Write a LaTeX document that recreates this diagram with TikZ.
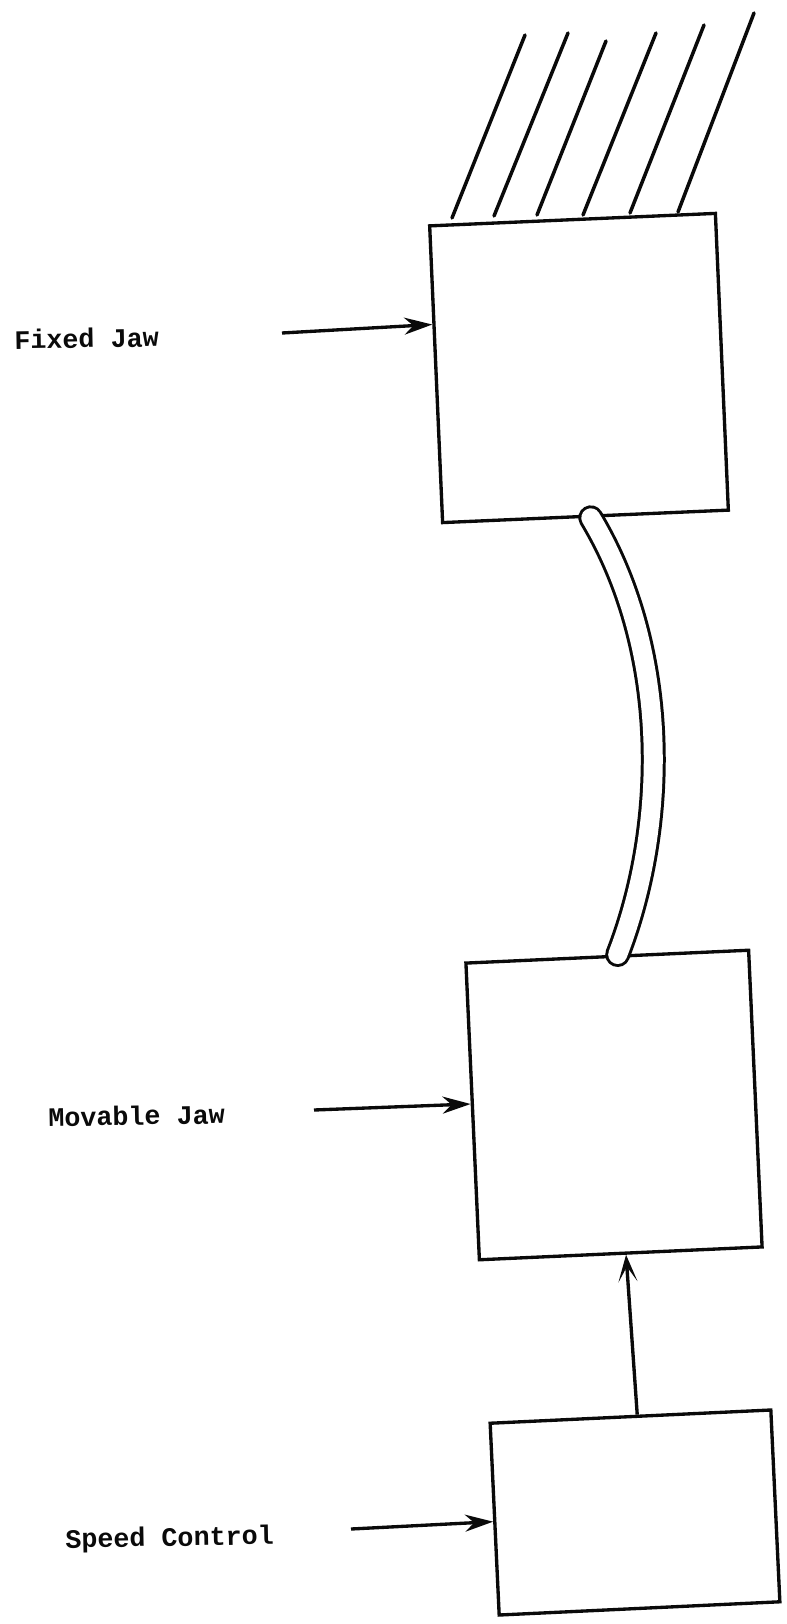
\documentclass[tikz,border=0pt]{standalone}
\usepackage{fontspec}
\setmonofont{Liberation Mono}
\usepackage{xcolor,tikz}
\usetikzlibrary{arrows.meta,positioning}
\definecolor{ink}{HTML}{0A0A0A}

\begin{document}
\begin{tikzpicture}[>=Stealth,
 unitbox/.style={draw=ink,line width=1.9pt,rectangle,inner sep=0pt},
 feedarrow/.style={draw=ink,line width=1.9pt,-{Stealth[length=0.56cm,width=0.34cm]}},
 risearrow/.style={draw=ink,line width=1.9pt,-{Stealth[length=0.54cm,width=0.38cm,inset=0.3cm]}},
 hatchline/.style={draw=ink,line width=2pt,line cap=round},
 tube/.style={draw=ink,line width=1.7pt,double=white,double distance=0.38cm,line cap=round},
 tag/.style={font=\ttfamily\bfseries\fontsize{15.2}{18}\selectfont,text=ink,inner sep=0pt,rotate=1}]
\useasboundingbox (0,0) rectangle (15.72,-32.48);
% the three boxes
\node[unitbox,minimum width=5.72cm,minimum height=5.94cm,rotate=2.5] (fixedbox) at (11.58,-7.36) {};
\node[unitbox,minimum width=5.66cm,minimum height=5.94cm,rotate=2.6] (movablebox) at (12.28,-22.1) {};
\node[unitbox,minimum width=5.62cm,minimum height=3.84cm,rotate=2.7] (speedbox) at (12.7,-30.25) {};
% strands above the fixed jaw
\foreach \xa/\ya/\xb/\yb in {9.04/-4.36/10.5/-0.7,9.88/-4.32/11.36/-0.66,10.74/-4.3/12.12/-0.82,11.66/-4.3/13.12/-0.66,12.6/-4.26/14.08/-0.5,13.56/-4.24/15.08/-0.26}
 \draw[hatchline] (\xa,\ya)--(\xb,\yb);
% inputs
\coordinate (fixedtail) at (5.64,-6.66);
\coordinate (movabletail) at (6.28,-22.2);
\coordinate (speedtail) at (7.02,-30.58);
\draw[feedarrow] (fixedtail)--(fixedbox.161.8);
\draw[feedarrow] (movabletail)--(movablebox.177.8);
\draw[feedarrow] (speedtail)--(speedbox.181.5);
\node[tag,left=2.46cm of fixedtail,yshift=-0.08cm] (fixedlabel) {Fixed Jaw};
\node[tag,left=1.78cm of movabletail,yshift=-0.08cm] (movablelabel) {Movable Jaw};
\node[tag,left=1.54cm of speedtail,yshift=-0.17cm] (speedlabel) {Speed Control};
% link between the jaws and the speed control
\draw[risearrow] (speedbox.86)--(movablebox.-88.5);
\draw[tube] (fixedbox.-88) .. controls (13.4,-13) and (13.36,-16.5) .. (movablebox.86);
\end{tikzpicture}
\end{document}
